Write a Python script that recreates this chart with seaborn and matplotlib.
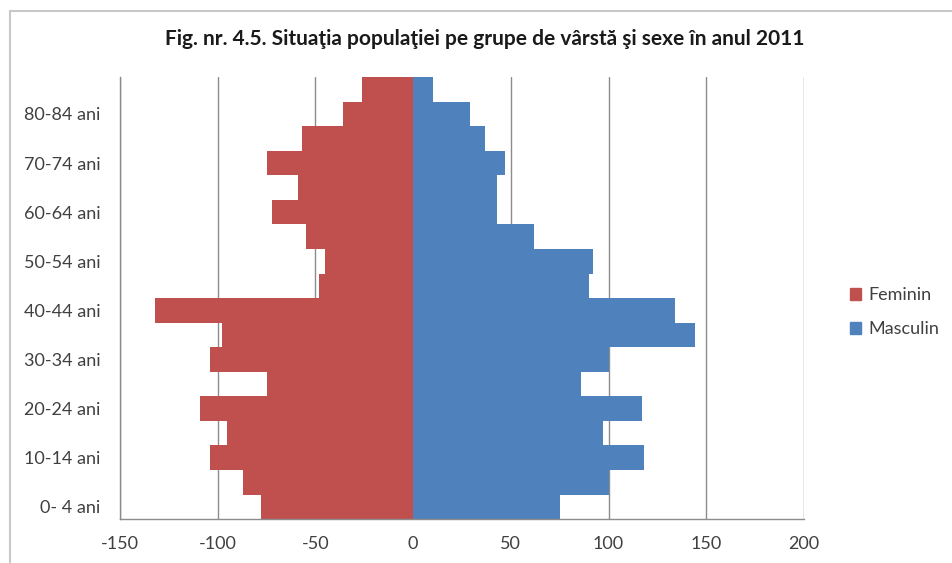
import pandas as pd
import matplotlib.pyplot as plt
import seaborn as sns
from matplotlib.patches import Rectangle, Patch

# ------------------------------------
# Data
# ------------------------------------

age_groups = ["0- 4 ani", "5-9 ani", "10-14 ani", "15-19 ani", "20-24 ani",
              "25-29 ani", "30-34 ani", "35-39 ani", "40-44 ani", "45-49 ani",
              "50-54 ani", "55-59 ani", "60-64 ani", "65-69 ani", "70-74 ani",
              "75-79 ani", "80-84 ani", "85+ ani"]

feminin = [78, 87, 104, 95, 109, 75, 104, 98, 132, 48,
           45, 55, 72, 59, 75, 57, 36, 26]

masculin = [75, 100, 118, 97, 117, 86, 100, 144, 134, 90,
            92, 62, 43, 43, 47, 37, 29, 10]

x_ticks = [-150, -100, -50, 0, 50, 100, 150, 200]

red = "#C0504D"
blue = "#4F81BD"

df = pd.DataFrame({
    "Grupa": age_groups * 2,
    "Valoare": [-v for v in feminin] + masculin,
    "Sex": ["Feminin"] * len(age_groups) + ["Masculin"] * len(age_groups),
})

# ------------------------------------
# Plot
# ------------------------------------

sns.set_style("white")
plt.rcParams["font.family"] = ["Lato", "DejaVu Sans"]

fig = plt.figure(figsize=(9.52, 5.63), dpi=100)
ax = fig.add_axes([0.126, 0.078, 0.7185, 0.785])

order = age_groups[::-1]
sns.barplot(data=df, y="Grupa", x="Valoare", hue="Sex", order=order,
            palette={"Feminin": red, "Masculin": blue}, dodge=False,
            saturation=1, width=1.0, orient="h", linewidth=0,
            legend=False, ax=ax)

ax.set_xlim(-150, 200)
ax.set_xticks(x_ticks)
ax.set_xticklabels([str(t) for t in x_ticks], fontsize=13, color="#404040")
ax.xaxis.grid(True, color="#8c8c8c", linewidth=1)
ax.set_axisbelow(True)
ax.tick_params(axis="x", length=0, pad=12)
ax.tick_params(axis="y", length=0, pad=14)

ylabels = [lab if age_groups.index(lab) % 2 == 0 else "" for lab in order]
ax.set_yticks(range(len(order)))
ax.set_yticklabels(ylabels, fontsize=13, color="#404040")
ax.set_ylim(len(order) - 0.5, -0.5)

ax.set_xlabel("")
ax.set_ylabel("")
for side in ["top", "right"]:
    ax.spines[side].set_visible(False)
for side in ["left", "bottom"]:
    ax.spines[side].set_color("#8c8c8c")
    ax.spines[side].set_linewidth(1)

handles = [Patch(color=red, label="Feminin"), Patch(color=blue, label="Masculin")]
leg = ax.legend(handles=handles, loc="center left", bbox_to_anchor=(1.044, 0.468),
                frameon=False, fontsize=13, handlelength=0.6, handleheight=0.6,
                handletextpad=0.4, labelspacing=1.0)
for t in leg.get_texts():
    t.set_color("#404040")

fig.text(0.509, 0.931, "Fig. nr. 4.5. Situaţia populaţiei pe grupe de vârstă şi sexe în anul 2011",
         ha="center", va="center", fontsize=15, fontweight="bold", color="#1a1a1a")

# chart border
fig.add_artist(Rectangle((0.0105, -0.05), 1.1, 1.0305, transform=fig.transFigure,
                         fill=False, edgecolor="#c8c8c8", linewidth=1.5))

plt.savefig("out.png", dpi=100)
